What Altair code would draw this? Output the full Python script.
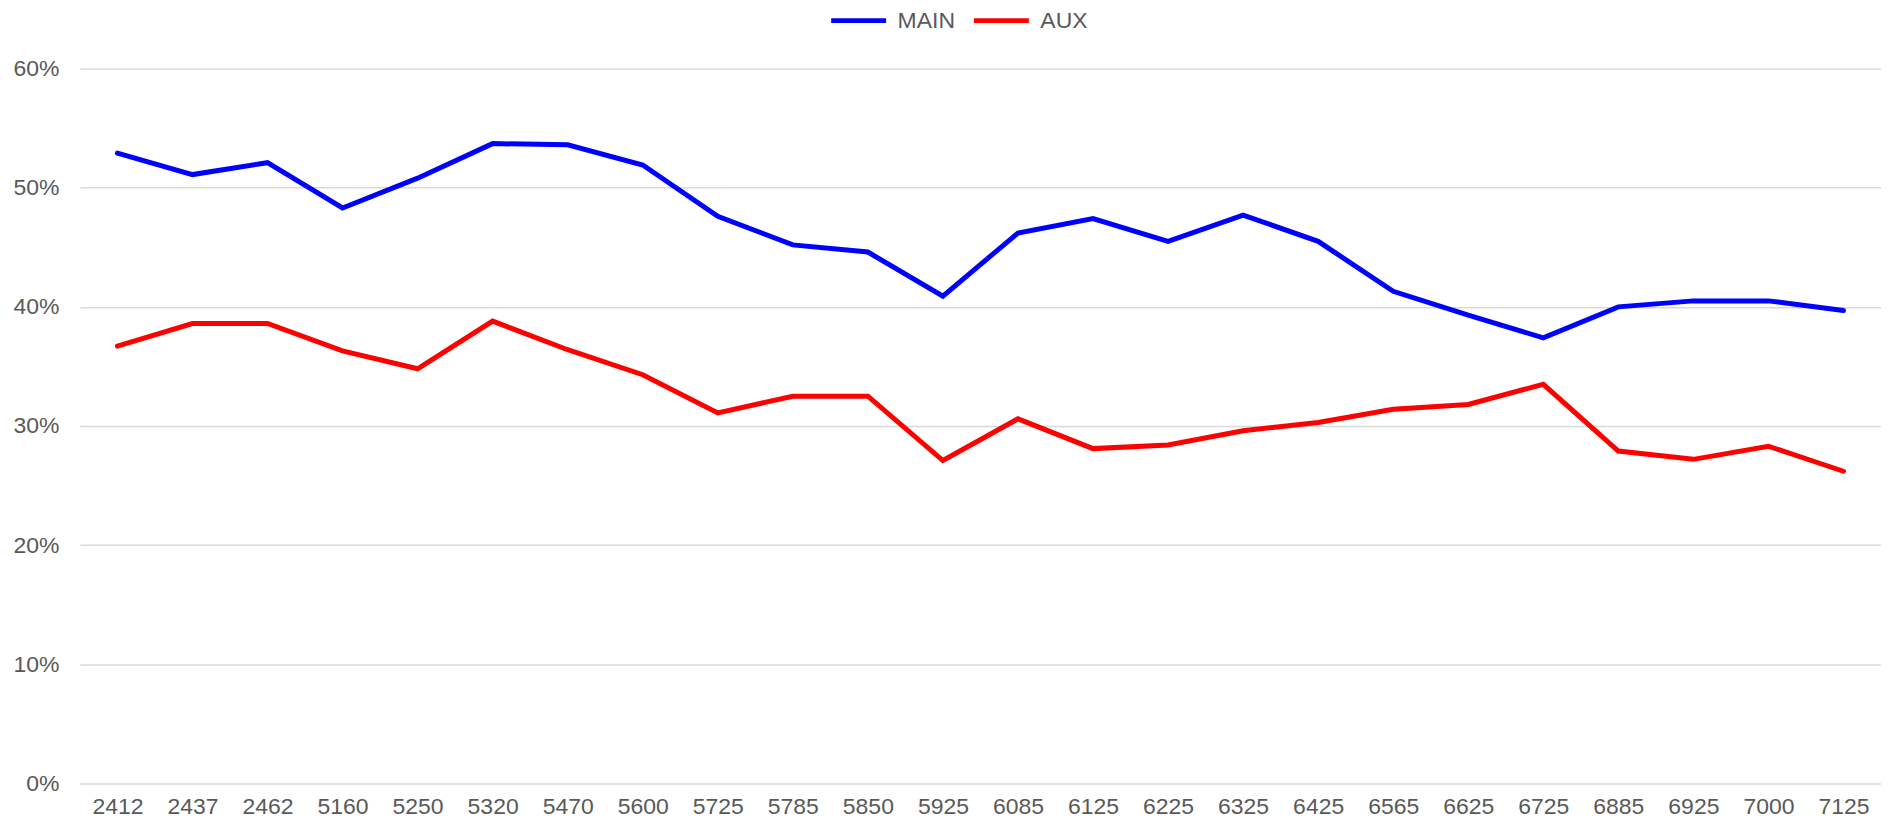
import altair as alt
import pandas as pd

categories = ["2412", "2437", "2462", "5160", "5250", "5320", "5470", "5600",
              "5725", "5785", "5850", "5925", "6085", "6125", "6225", "6325",
              "6425", "6565", "6625", "6725", "6885", "6925", "7000", "7125"]
main_vals = [0.529, 0.511, 0.521, 0.483, 0.508, 0.537, 0.536, 0.519,
             0.476, 0.452, 0.446, 0.409, 0.462, 0.474, 0.455, 0.477,
             0.455, 0.413, 0.393, 0.374, 0.400, 0.405, 0.405, 0.397]
aux_vals = [0.367, 0.386, 0.386, 0.363, 0.348, 0.388, 0.364, 0.343,
            0.311, 0.325, 0.325, 0.271, 0.306, 0.281, 0.284, 0.296,
            0.303, 0.314, 0.318, 0.335, 0.279, 0.272, 0.283, 0.262]
series = ["MAIN", "AUX"]
colors = ["#0000FF", "#FF0000"]
y_ticks = [0, 0.1, 0.2, 0.3, 0.4, 0.5, 0.6]

rows = []
for c, m, a in zip(categories, main_vals, aux_vals):
    rows.append({"freq": c, "series": "MAIN", "value": m})
    rows.append({"freq": c, "series": "AUX", "value": a})
df = pd.DataFrame(rows)

FONT = "Liberation Sans"
TXT = "#595959"

chart = alt.Chart(df).mark_line(strokeWidth=5, strokeCap="round", strokeJoin="miter").encode(
    x=alt.X("freq:N", sort=categories, title=None,
            scale=alt.Scale(padding=0.5),
            axis=alt.Axis(labelAngle=0, labelFontSize=23, labelFont=FONT, labelColor=TXT,
                          domain=False, ticks=False, labelPadding=12, grid=False)),
    y=alt.Y("value:Q", title=None,
            scale=alt.Scale(domain=[0, 0.6], nice=False),
            axis=alt.Axis(values=y_ticks, format=".0%", labelFontSize=23, labelFont=FONT,
                          labelColor=TXT, domain=False, ticks=False, labelPadding=21,
                          grid=True, gridColor="#d9d9d9", gridWidth=1.5)),
    color=alt.Color("series:N", sort=series,
                    scale=alt.Scale(domain=series, range=colors),
                    legend=alt.Legend(title=None, orient="none", direction="horizontal",
                                      legendX=750, legendY=-78,
                                      symbolType="stroke", symbolSize=3025, symbolStrokeWidth=5,
                                      labelFontSize=23, labelFont=FONT, labelColor=TXT,
                                      labelOffset=9, columnPadding=8)),
    order=alt.Order("series:N"),
).properties(
    width=1804, height=716,
    background="white",
    autosize=alt.AutoSizeParams(type="none"),
    padding={"left": 72, "top": 60, "right": 0, "bottom": 34},
).configure_view(stroke=None)

chart.save("out.html", embed_options={"renderer": "svg", "actions": False})
